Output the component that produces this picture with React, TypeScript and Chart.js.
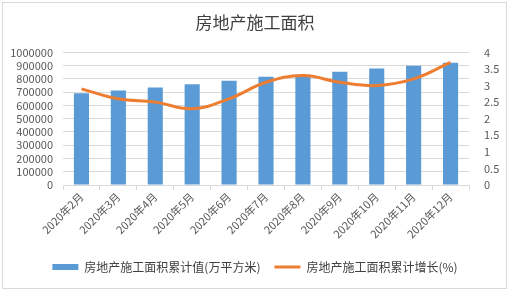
import React, { useEffect, useRef } from "react";
import { Chart, registerables } from "chart.js";

Chart.register(...registerables);

const categories = ["2020年2月", "2020年3月", "2020年4月", "2020年5月", "2020年6月", "2020年7月", "2020年8月", "2020年9月", "2020年10月", "2020年11月", "2020年12月"];
const areaValues = [692000, 712000, 735000, 760000, 787000, 817000, 832000, 855000, 878000, 900000, 922000];
const growthValues = [2.9, 2.6, 2.5, 2.3, 2.6, 3.1, 3.3, 3.1, 3.0, 3.2, 3.7];
const barLabel = "房地产施工面积累计值(万平方米)";
const lineLabel = "房地产施工面积累计增长(%)";
const titleText = "房地产施工面积";

const FONT = "'Noto Sans CJK SC', 'Noto Sans', sans-serif";

export default function App() {
  const ref = useRef<HTMLCanvasElement | null>(null);
  useEffect(() => {
    document.body.style.margin = "0";
    const borderPlugin = {
      id: "outerBorder",
      beforeDraw(chart: any) {
        const ctx = chart.ctx;
        ctx.save();
        ctx.fillStyle = "#ffffff";
        ctx.fillRect(0, 0, chart.width, chart.height);
        ctx.strokeStyle = "#D9D9D9";
        ctx.lineWidth = 1;
        ctx.strokeRect(2.5, 2.5, 504, 286);
        ctx.restore();
      },
    };
    const chart = new Chart(ref.current as HTMLCanvasElement, {
      type: "bar",
      data: {
        labels: categories,
        datasets: [
          {
            type: "line",
            label: lineLabel,
            data: growthValues,
            yAxisID: "y1",
            borderColor: "#ED7D31",
            backgroundColor: "#ED7D31",
            borderWidth: 3,
            pointRadius: 0,
            tension: 0.4,
            order: 0,
          } as any,
          {
            type: "bar",
            label: barLabel,
            data: areaValues,
            yAxisID: "y",
            backgroundColor: "#5B9BD5",
            categoryPercentage: 1,
            barPercentage: 0.41,
            order: 1,
          } as any,
        ],
      },
      options: {
        responsive: false,
        animation: false,
        layout: { padding: { left: 0, right: 0, top: 0, bottom: 8 } },
        plugins: {
          title: {
            display: true,
            text: titleText,
            color: "#404040",
            font: { family: FONT, size: 17, weight: "normal" },
            padding: { top: 12, bottom: 20 },
          },
          legend: {
            position: "bottom",
            labels: {
              color: "#404040",
              font: { family: FONT, size: 12 },
              usePointStyle: true,
              boxHeight: 6,
              pointStyleWidth: 26,
              padding: 14,
              generateLabels(chart: any) {
                return [
                  {
                    text: barLabel,
                    fillStyle: "#5B9BD5",
                    strokeStyle: "#5B9BD5",
                    lineWidth: 0,
                    pointStyle: "rect",
                    datasetIndex: 1,
                    fontColor: "#404040",
                  },
                  {
                    text: lineLabel,
                    fillStyle: "#ED7D31",
                    strokeStyle: "#ED7D31",
                    lineWidth: 3,
                    pointStyle: "line",
                    datasetIndex: 0,
                    fontColor: "#404040",
                  },
                ];
              },
            },
          },
          tooltip: { enabled: false },
        },
        scales: {
          x: {
            grid: {
              offset: true,
              drawOnChartArea: false,
              drawTicks: true,
              tickLength: 5,
              color: "#D9D9D9",
            },
            border: { color: "#D9D9D9" },
            ticks: {
              color: "#595959",
              font: { family: FONT, size: 11 },
              minRotation: 45,
              maxRotation: 45,
              autoSkip: false,
              padding: 0,
            },
            afterFit(scale: any) {
              scale.height = 62;
            },
          },
          y: {
            position: "left",
            min: 0,
            max: 1000000,
            ticks: {
              stepSize: 100000,
              autoSkip: false,
              color: "#595959",
              font: { family: FONT, size: 11 },
              padding: 10,
              callback: (v: any) => String(v),
            },
            grid: { color: "#D9D9D9", drawTicks: false },
            border: { display: false },
            afterFit(scale: any) {
              scale.width = 63;
            },
          },
          y1: {
            position: "right",
            min: 0,
            max: 4,
            ticks: {
              stepSize: 0.5,
              autoSkip: false,
              color: "#595959",
              font: { family: FONT, size: 11 },
              padding: 15,
              callback: (v: any) => String(v),
            },
            grid: { drawOnChartArea: false, drawTicks: false },
            border: { display: false },
            afterFit(scale: any) {
              scale.width = 41;
            },
          },
        },
      },
      plugins: [borderPlugin],
    });
    return () => chart.destroy();
  }, []);
  return (
    <div style={{ width: 510, height: 291 }}>
      <canvas ref={ref} width={510} height={291} />
    </div>
  );
}
